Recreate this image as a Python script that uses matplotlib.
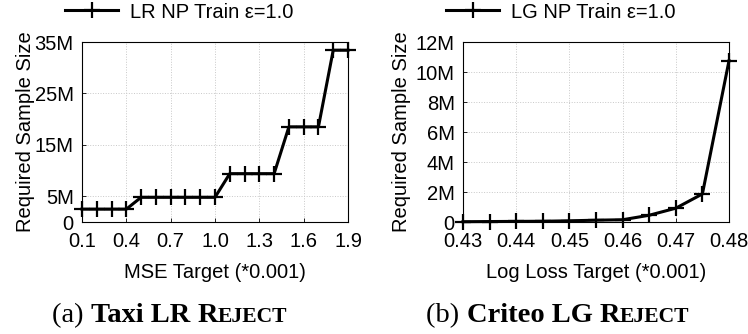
import matplotlib
matplotlib.use("Agg")
import matplotlib.pyplot as plt
from matplotlib.ticker import FuncFormatter

plt.rcParams['font.family'] = ['Liberation Sans', 'DejaVu Sans']

# Taxi LR: MSE target vs required sample size (millions)
taxi_mse = [0.1, 0.2, 0.3, 0.4, 0.5, 0.6, 0.7, 0.8, 0.9, 1.0,
            1.1, 1.2, 1.3, 1.4, 1.5, 1.6, 1.7, 1.8, 1.9]
taxi_size = [2.5, 2.5, 2.5, 2.5, 4.8, 4.8, 4.8, 4.8, 4.8, 4.8,
             9.4, 9.4, 9.4, 9.4, 18.5, 18.5, 18.5, 33.4, 33.4]
taxi_xticks = [0.1, 0.4, 0.7, 1.0, 1.3, 1.6, 1.9]
taxi_yticks = [0, 5, 15, 25, 35]

# Criteo LG: log loss target vs required sample size (millions)
criteo_loss = [0.43, 0.435, 0.44, 0.445, 0.45, 0.455, 0.46, 0.465, 0.47, 0.475, 0.48]
criteo_size = [0.02, 0.03, 0.04, 0.05, 0.08, 0.12, 0.15, 0.45, 0.92, 1.87, 10.75]
criteo_xticks = [0.43, 0.44, 0.45, 0.46, 0.47, 0.48]
criteo_yticks = [0, 2, 4, 6, 8, 10, 12]

W, H = 748, 334
fig = plt.figure(figsize=(W / 100, H / 100), dpi=100)

FS = 14.5


def mfmt(v, pos):
    return "0" if v == 0 else f"{v:g}M"


def panel(left_px, x, y, xticks, yticks, xfmt, xlabel, label, leg_px, ylab_px):
    ax = fig.add_axes([left_px / W, 1 - 222 / H, 266 / W, 180 / H])
    ax.plot(x, y, color='black', lw=2.2, marker='+', ms=11, mew=1.6,
            label=label, clip_on=False, zorder=3)
    ax.set_xlim(xticks[0], xticks[-1])
    ax.set_ylim(yticks[0], yticks[-1])
    ax.set_xticks(xticks)
    ax.set_yticks(yticks)
    ax.xaxis.set_major_formatter(FuncFormatter(lambda v, p: xfmt.format(v)))
    ax.yaxis.set_major_formatter(FuncFormatter(mfmt))
    ax.tick_params(direction='in', length=3, width=0.6, labelsize=FS)
    ax.tick_params(axis='x', pad=7)
    ax.tick_params(axis='y', pad=6)
    ax.grid(True, color='#c8c8c8', ls=':', lw=0.7)
    for s in ax.spines.values():
        s.set_linewidth(0.8)
    ax.set_xlabel(xlabel, fontsize=FS, labelpad=9)
    ax.set_ylabel("Required Sample Size", fontsize=FS)
    ax.yaxis.set_label_coords((ylab_px - left_px) / 266, 0.5)
    ax.legend(loc='center left', bbox_to_anchor=(leg_px / W, 1 - 12 / H),
              bbox_transform=fig.transFigure, frameon=False, fontsize=FS,
              handlelength=2.65, handletextpad=0.6, borderpad=0, borderaxespad=0)
    return ax


ax1 = panel(82, taxi_mse, taxi_size, taxi_xticks, taxi_yticks, "{:.1f}",
            "MSE Target (*0.001)", "LR NP Train ε=1.0", 65, 35)
ax2 = panel(463, criteo_loss, criteo_size, criteo_xticks, criteo_yticks, "{:.2f}",
            "Log Loss Target (*0.001)", "LG NP Train ε=1.0", 446, 411)

# captions with small-caps "Reject"
renderer = fig.canvas.get_renderer()
CAP = 20.5


def caption(cx_px, tag, name):
    pieces = [(tag + " ", 'normal', CAP), (name + " ", 'bold', CAP),
              ("R", 'bold', CAP), ("EJECT", 'bold', CAP * 0.76)]
    texts = []
    for s, w, fs in pieces:
        t = fig.text(0, 1 - 322 / H, s, fontsize=fs, fontweight=w,
                     family='Liberation Serif', va='baseline', ha='left')
        texts.append(t)
    widths = [t.get_window_extent(renderer).width for t in texts]
    x = cx_px - sum(widths) / 2
    for t, w in zip(texts, widths):
        t.set_x(x / W)
        x += w


caption(170, "(a)", "Taxi LR")
caption(558, "(b)", "Criteo LG")

fig.savefig("out.png", dpi=100)
